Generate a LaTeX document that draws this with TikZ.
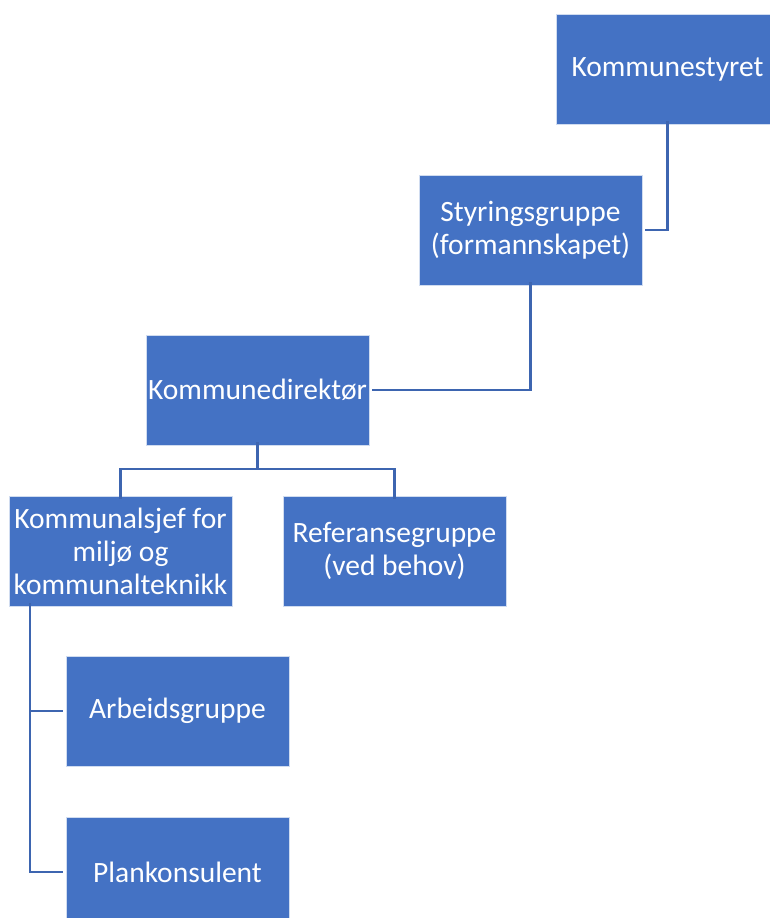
\documentclass[tikz,border=0pt]{standalone}
\usepackage{fontspec}
\setmainfont{Carlito}
\definecolor{boxblue}{HTML}{4472C4}
\definecolor{lineblue}{HTML}{3D65B0}
\begin{document}
\begin{tikzpicture}[x=1pt,y=-1pt,
  orgbox/.style={rectangle, fill=boxblue, draw=white!75!boxblue, line width=0.8pt,
    minimum width=223pt, minimum height=110pt, inner sep=1pt, text=white,
    align=center, font=\fontsize{29.5}{33}\selectfont},
  conn/.style={draw=lineblue, line width=2.2pt}]
\useasboundingbox (0,0) rectangle (770,918);
\clip (0,0) rectangle (770,918);
\node[orgbox] (K) at (667.5,69) {Kommunestyret};
\node[orgbox] (S) at (530.5,230) {Styringsgruppe\\(formannskapet)};
\node[orgbox] (D) at (257.5,390) {Kommunedirektør};
\node[orgbox] (M) at (120.5,551) {Kommunalsjef for\\miljø og\\kommunalteknikk};
\node[orgbox] (R) at (394.5,551) {Referansegruppe\\(ved behov)};
\node[orgbox] (A) at (177.5,711) {Arbeidsgruppe};
\node[orgbox] (P) at (177.5,872) {Plankonsulent};
\coordinate (j) at (257.5,469);
\coordinate (m) at (30,606);
\draw[conn] ([yshift=3]K.south) |- ([xshift=3]S.east);
\draw[conn] ([yshift=3]S.south) |- ([xshift=3]D.east);
\draw[conn] ([yshift=3]D.south) -- (j);
\draw[conn] ([yshift=-3]M.north) |- (j) -| ([yshift=-3]R.north);
\draw[conn] ([yshift=3]m) |- ([xshift=-3]A.west);
\draw[conn] ([yshift=3]m) |- ([xshift=-3]P.west);
\end{tikzpicture}
\end{document}
